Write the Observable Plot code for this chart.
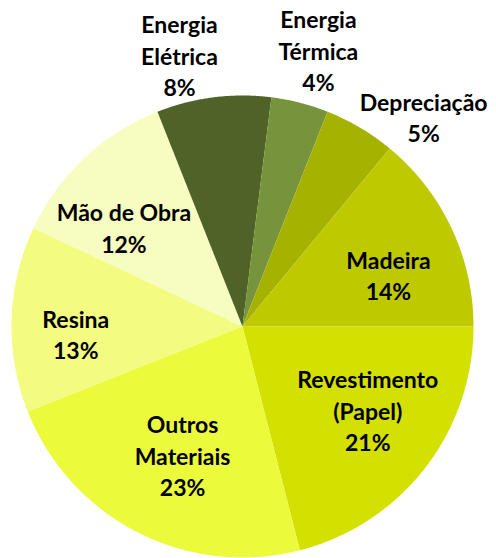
<!DOCTYPE html>
<html><head><meta charset="utf-8">
<script src="https://cdn.jsdelivr.net/npm/d3@7"></script>
<script src="https://cdn.jsdelivr.net/npm/@observablehq/plot@0.6"></script>
<style>body{margin:0;background:#fff}</style>
</head><body><div id="chart"></div>
<script>
// Data (clockwise, starting at 3 o'clock)
const categories = ["Revestimento\n(Papel)", "Outros\nMateriais", "Resina", "Mão de Obra", "Energia\nElétrica", "Energia\nTérmica", "Depreciação", "Madeira"];
const values = [21, 23, 13, 12, 8, 4, 5, 14];
const colors = ["#d4e100", "#ebfb3b", "#f3fb80", "#f7fcc0", "#4f6228", "#77933c", "#a6b200", "#bfc900"];

// Layout: label positions (radius in px, angle in degrees clockwise from top)
const labelPolar = [[152,124.5],[144,204.6],[167,266.6],[153,309.2],[276,346.8],[284,15.5],[275,41.2],[154,71.4]];

const R = 231, CX = 242, CY = 326;
const arcs = d3.pie().sort(null).value(d => d.value)
  .startAngle(Math.PI/2).endAngle(Math.PI/2 + 2*Math.PI)(
    categories.map((c, i) => ({cat: c, value: values[i]})));

const pts = [];
arcs.forEach(a => {
  pts.push({cat: a.data.cat, x: 0, y: 0});
  const n = Math.max(2, Math.ceil((a.endAngle - a.startAngle) / 0.005));
  for (let k = 0; k <= n; k++) {
    const t = a.startAngle + (a.endAngle - a.startAngle) * k / n;
    pts.push({cat: a.data.cat, x: Math.sin(t), y: Math.cos(t)});
  }
});

const labels = categories.map((c, i) => {
  const [r, deg] = labelPolar[i];
  const t = deg * Math.PI / 180;
  return {text: `${c}\n${values[i]}%`, x: Math.sin(t) * r / R, y: Math.cos(t) * r / R};
});

const chart = Plot.plot({
  width: 496, height: 558, margin: 0,
  x: {domain: [-1, 1], range: [CX - R, CX + R], axis: null},
  y: {domain: [-1, 1], range: [CY + R, CY - R], axis: null},
  color: {type: "ordinal", domain: categories, range: colors},
  style: {background: "#fff"},
  marks: [
    Plot.line(pts, {x: "x", y: "y", z: "cat", fill: "cat", stroke: "none", curve: "linear-closed"}),
    Plot.text(labels, {x: "x", y: "y", text: "text", fontSize: 23, fontWeight: "bold", dy: -3,
      fontFamily: "Lato", lineHeight: 1.37, fill: "#000", lineAnchor: "middle", textAnchor: "middle"})
  ]
});
document.getElementById("chart").appendChild(chart);
</script>
</body></html>
